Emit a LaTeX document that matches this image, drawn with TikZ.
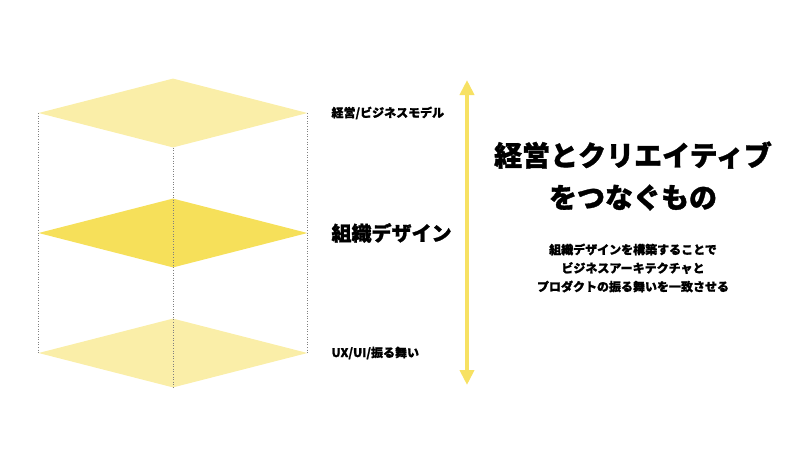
\documentclass[tikz,border=0pt]{standalone}
\usepackage{fontspec}
\setmainfont{Noto Sans CJK JP}[BoldFeatures={FakeBold=1.2}]
\usetikzlibrary{shapes.geometric, arrows.meta}
\definecolor{paleyellow}{HTML}{FAEEA8}
\definecolor{deepyellow}{HTML}{F6E05A}
\definecolor{arrowyellow}{HTML}{F7E163}

\begin{document}
\begin{tikzpicture}[x=1pt, y=-1pt, >={Triangle[width=14pt, length=15pt]},
  every layer/.style={diamond, minimum width=269pt, minimum height=69pt, inner sep=0pt},
  layer 1/.style={fill=paleyellow},
  layer 2/.style={fill=deepyellow},
  layer 3/.style={fill=paleyellow},
  edge line/.style={gray, dotted, line width=0.6pt},
  layer tag/.style={anchor=west, font=\bfseries\fontsize{12}{14}\selectfont},
  tag 2/.style={font=\bfseries\fontsize{20}{24}\selectfont}]

\useasboundingbox (0,0) rectangle (800,450);

\foreach \l [count=\y] in {1,2,3}
  \node [every layer/.try, layer \l/.try] (layer-\l) at (173, -7+120*\y) {};

\foreach \side in {west, east}
  \draw [edge line] (layer-1.\side) -- (layer-3.\side);
\draw [edge line] (layer-1.south) -- (layer-3.south);

\foreach \t [count=\y] in {{経営/ビジネスモデル}, {組織デザイン}, {UX/UI/振る舞い}}
  \node [layer tag, tag \y/.try] (tag-\y) at (328, -7+120*\y) {\t};

\coordinate (arrow-top) at (467,80);
\coordinate (arrow-bottom) at (467,385);
\draw [<->, arrowyellow, line width=4pt] (arrow-top) -- (arrow-bottom);

\node [align=center, font=\bfseries\fontsize{28}{42}\selectfont] (title) at (633,176)
  {経営とクリエイティブ\\をつなぐもの};
\node [align=center, font=\bfseries\fontsize{12}{18.5}\selectfont] (summary) at (633,268)
  {組織デザインを構築することで\\ビジネスアーキテクチャと\\プロダクトの振る舞いを一致させる};
\end{tikzpicture}
\end{document}
